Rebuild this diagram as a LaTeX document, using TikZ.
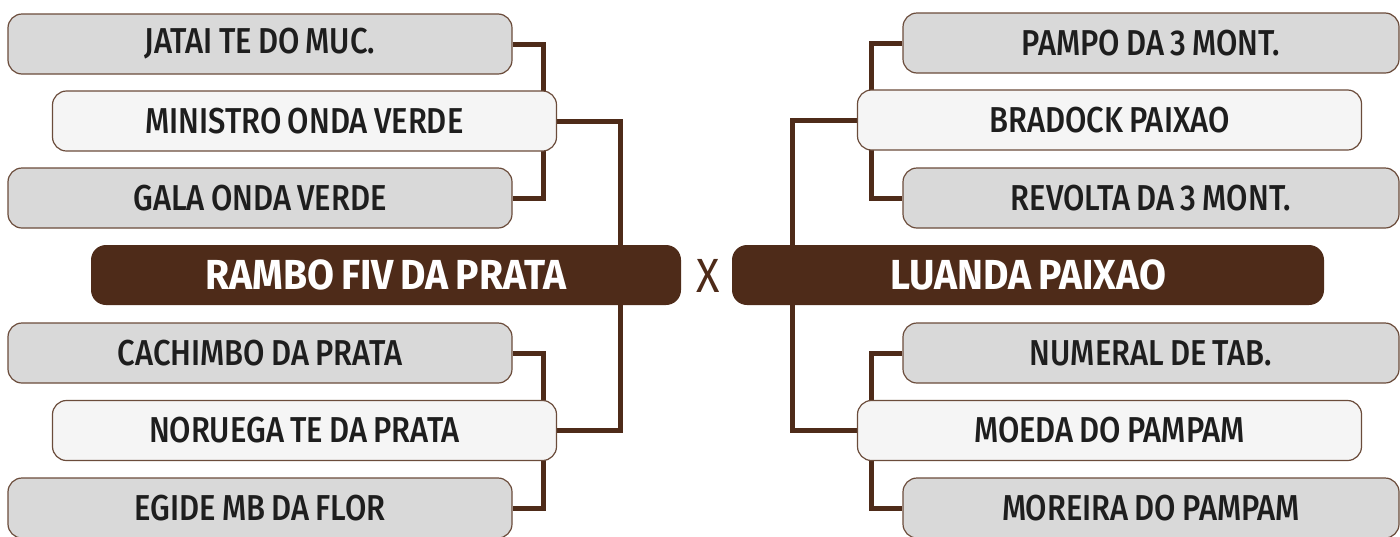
\documentclass[tikz,border=0pt]{standalone}
\usepackage{fontspec}
\setmainfont{Fira Sans}
\newfontfamily\entryfont{Fira Sans}[UprightFont={* Medium},FakeStretch=0.86,WordSpace=0.8]
\newfontfamily\headfont{Fira Sans}[UprightFont={* Bold},FakeStretch=0.93,WordSpace=0.75]
\newfontfamily\versusfont{Fira Sans}[FakeStretch=0.9]
\usetikzlibrary{backgrounds}
\definecolor{brownfinal}{HTML}{4E2B19}
\definecolor{brownedge}{HTML}{6B4C3B}
\definecolor{greybox}{HTML}{D9D9D9}
\definecolor{paperbox}{HTML}{F5F5F5}
\definecolor{inkdark}{HTML}{1E1E1E}

\tikzset{
  entry/.style={draw=brownedge,line width=0.6pt,rounded corners=7pt,minimum height=30pt,inner sep=0pt,
    text=inkdark,font=\entryfont\fontsize{18}{18}\selectfont},
  greyentry/.style={entry,fill=greybox,minimum width=252pt},
  paperentry/.style={entry,fill=paperbox,minimum width=252pt},
  finalist/.style={fill=brownfinal,rounded corners=7.5pt,minimum height=30pt,inner sep=0pt,
    text=white,font=\headfont\fontsize{21}{21}\selectfont},
  bracket/.style={draw=brownfinal,line width=2.5pt}
}

\begin{document}
\begin{tikzpicture}[x=0.5pt,y=-0.5pt]
    \useasboundingbox (0,0) rectangle (1400,536);
    \clip (0,0) rectangle (1400,536);
        % left half
        \node[greyentry] (jatai) at (260,44) {JATAI TE DO MUC.};
        \node[paperentry] (ministro) at (304.5,121) {MINISTRO ONDA VERDE};
        \node[greyentry] (gala) at (260,198) {GALA ONDA VERDE};
        \node[finalist,minimum width=295pt] (rambo) at (386,275) {RAMBO FIV DA PRATA};
        \node[greyentry] (cachimbo) at (260,353) {CACHIMBO DA PRATA};
        \node[paperentry] (noruega) at (304.5,430.5) {NORUEGA TE DA PRATA};
        \node[greyentry] (egide) at (260,508) {EGIDE MB DA FLOR};
        % versus
        \node[text=brownfinal,font=\versusfont\fontsize{24}{24}\selectfont] (vs) at (708,276) {X};
        % right half
        \node[greyentry,minimum width=248pt] (pampo) at (1151,43) {PAMPO DA 3 MONT.};
        \node[paperentry] (bradock) at (1109.5,120) {BRADOCK PAIXAO};
        \node[greyentry,minimum width=248pt] (revolta) at (1151,198) {REVOLTA DA 3 MONT.};
        \node[finalist,minimum width=296pt] (luanda) at (1028,275) {LUANDA PAIXAO};
        \node[greyentry,minimum width=248pt] (numeral) at (1151,353) {NUMERAL DE TAB.};
        \node[paperentry] (moeda) at (1109.5,430.5) {MOEDA DO PAMPAM};
        \node[greyentry,minimum width=248pt] (moreira) at (1151,508) {MOREIRA DO PAMPAM};
        \begin{scope}[on background layer]
        \draw[bracket] (jatai.east) -- ++(31,0) |- (gala.east);
        \draw[bracket] (cachimbo.east) -- ++(31,0) |- (egide.east);
        \draw[bracket] (ministro.east) -- ++(63.5,0) coordinate (mjoin) -- (mjoin |- rambo.north);
        \draw[bracket] (noruega.east) -- ++(63.5,0) coordinate (njoin) -- (njoin |- rambo.south);
        \draw[bracket] (pampo.west) -- ++(-31,0) |- (revolta.west);
        \draw[bracket] (numeral.west) -- ++(-31,0) |- (moreira.west);
        \draw[bracket] (bradock.west) -- ++(-64,0) coordinate (bjoin) -- (bjoin |- luanda.north);
        \draw[bracket] (moeda.west) -- ++(-64,0) coordinate (ojoin) -- (ojoin |- luanda.south);
        \end{scope}
    \end{tikzpicture}
\end{document}
